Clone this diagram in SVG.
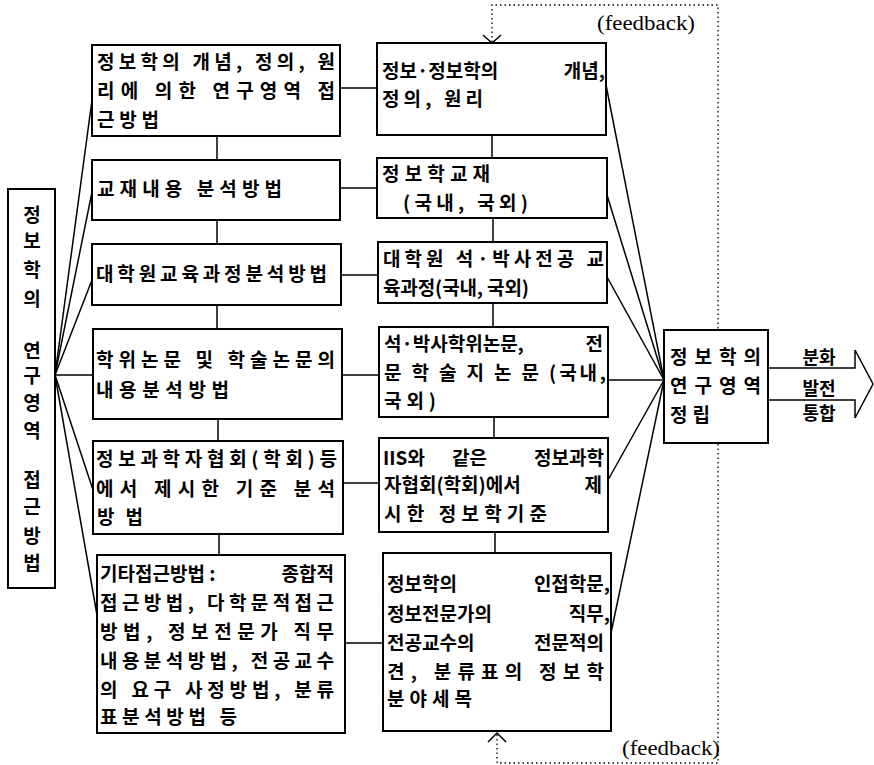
<svg xmlns="http://www.w3.org/2000/svg" width="874" height="765" viewBox="0 0 874 765">
<style>
.box{fill:#fff;stroke:#000;stroke-width:2}
.ln{stroke:#000;stroke-width:1.5;fill:none}
.dot{stroke:#000;stroke-width:1.3;stroke-dasharray:1.5 3;fill:none}
.arw{stroke:#000;stroke-width:1.5;fill:none}
.t{font-family:"Noto Sans CJK KR","Noto Sans",sans-serif;font-size:19px;font-weight:bold;fill:#000}
.v{font-family:"Noto Sans CJK KR","Noto Sans",sans-serif;font-size:19px;font-weight:bold;fill:#000;text-anchor:middle}
.a{font-family:"Noto Sans CJK KR","Noto Sans",sans-serif;font-size:18px;font-weight:bold;fill:#000;text-anchor:middle}
.fb{font-family:"Liberation Serif",serif;font-size:20px;fill:#000}
</style>
<rect width="874" height="765" fill="#fff"/>
<g id="connectors">
  <polyline class="dot" points="492,42 492,5 718,5 718,763 497,763 497,734"/>
  <polyline class="arw" points="483,35 492,43 501,35"/>
  <polyline class="arw" points="488,742 497,733 506,742"/>
  <line class="ln" x1="55" y1="375" x2="92" y2="100"/>
  <line class="ln" x1="55" y1="375" x2="92" y2="192"/>
  <line class="ln" x1="55" y1="375" x2="92" y2="280"/>
  <line class="ln" x1="55" y1="375" x2="93" y2="375"/>
  <line class="ln" x1="55" y1="375" x2="93" y2="490"/>
  <line class="ln" x1="55" y1="375" x2="97" y2="615"/>
  <line class="ln" x1="217" y1="136" x2="217" y2="160"/>
  <line class="ln" x1="217" y1="220" x2="217" y2="244"/>
  <line class="ln" x1="217" y1="305" x2="217" y2="329"/>
  <line class="ln" x1="218" y1="419" x2="218" y2="441"/>
  <line class="ln" x1="219" y1="534" x2="219" y2="555"/>
  <line class="ln" x1="492" y1="135" x2="492" y2="158"/>
  <line class="ln" x1="493" y1="218" x2="493" y2="242"/>
  <line class="ln" x1="493" y1="303" x2="493" y2="327"/>
  <line class="ln" x1="494" y1="417" x2="494" y2="438"/>
  <line class="ln" x1="495" y1="532" x2="495" y2="553"/>
  <line class="ln" x1="340" y1="88" x2="377" y2="88"/>
  <line class="ln" x1="340" y1="188" x2="377" y2="188"/>
  <line class="ln" x1="340" y1="275" x2="378" y2="275"/>
  <line class="ln" x1="342" y1="375" x2="379" y2="375"/>
  <line class="ln" x1="343" y1="483" x2="379" y2="483"/>
  <line class="ln" x1="345" y1="643" x2="383" y2="643"/>
  <line class="ln" x1="606" y1="85" x2="664" y2="380"/>
  <line class="ln" x1="607" y1="195" x2="664" y2="380"/>
  <line class="ln" x1="607" y1="277" x2="664" y2="380"/>
  <line class="ln" x1="608" y1="380" x2="664" y2="380"/>
  <line class="ln" x1="608" y1="480" x2="664" y2="380"/>
  <line class="ln" x1="611" y1="633" x2="664" y2="380"/>
  <polyline class="arw" points="768,368 855,368 855,350 873,384 855,418 855,400 768,400"/>
</g>
<text class="fb" x="597" y="30" textLength="98" lengthAdjust="spacingAndGlyphs">(feedback)</text>
<text class="fb" x="622" y="755" textLength="98" lengthAdjust="spacingAndGlyphs">(feedback)</text>

<g id="root">
  <rect class="box" x="8" y="189" width="47" height="399"/>
  <text class="v"><tspan x="32" y="222">정</tspan><tspan x="32" y="248">보</tspan><tspan x="32" y="277">학</tspan><tspan x="32" y="306">의</tspan><tspan x="32" y="358">연</tspan><tspan x="32" y="383">구</tspan><tspan x="32" y="410">영</tspan><tspan x="32" y="438">역</tspan><tspan x="32" y="487">접</tspan><tspan x="32" y="514">근</tspan><tspan x="32" y="543">방</tspan><tspan x="32" y="570">법</tspan></text>
</g>

<g id="m1">
  <rect class="box" x="92" y="45" width="248" height="91"/>
  <text class="t" x="97" y="69" textLength="238" lengthAdjust="spacing">정보학의 개념, 정의, 원</text>
  <text class="t" x="97" y="98" textLength="238" lengthAdjust="spacing">리에 의한 연구영역 접</text>
  <text class="t" x="97" y="127" textLength="62" lengthAdjust="spacing">근방법</text>
</g>
<g id="m2">
  <rect class="box" x="92" y="160" width="248" height="60"/>
  <text class="t" x="97" y="196" textLength="185" lengthAdjust="spacing">교재내용 분석방법</text>
</g>
<g id="m3">
  <rect class="box" x="92" y="244" width="249" height="61"/>
  <text class="t" x="96" y="281" textLength="231" lengthAdjust="spacing">대학원교육과정분석방법</text>
</g>
<g id="m4">
  <rect class="box" x="93" y="329" width="249" height="90"/>
  <text class="t" x="96" y="367" textLength="239" lengthAdjust="spacing">학위논문 및 학술논문의</text>
  <text class="t" x="96" y="397" textLength="133" lengthAdjust="spacing">내용분석방법</text>
</g>
<g id="m5">
  <rect class="box" x="93" y="441" width="250" height="93"/>
  <text class="t" x="96" y="466" textLength="241" lengthAdjust="spacing">정보과학자협회(학회)등</text>
  <text class="t" x="96" y="496" textLength="239" lengthAdjust="spacing">에서 제시한 기준 분석</text>
  <text class="t" x="97" y="524" textLength="46" lengthAdjust="spacing">방법</text>
</g>
<g id="m6">
  <rect class="box" x="97" y="555" width="248" height="178"/>
  <text class="t" x="100" y="581">기타접근방법 :<tspan x="334" text-anchor="end">종합적</tspan></text>
  <text class="t" x="100" y="610" textLength="234" lengthAdjust="spacing">접근방법, 다학문적접근</text>
  <text class="t" x="100" y="639" textLength="234" lengthAdjust="spacing">방법, 정보전문가 직무</text>
  <text class="t" x="100" y="668" textLength="234" lengthAdjust="spacing">내용분석방법, 전공교수</text>
  <text class="t" x="100" y="697" textLength="234" lengthAdjust="spacing">의 요구 사정방법, 분류</text>
  <text class="t" x="100" y="724" textLength="137" lengthAdjust="spacing">표분석방법 등</text>
</g>

<g id="s1">
  <rect class="box" x="377" y="43" width="229" height="92"/>
  <text class="t" x="382" y="78">정보·정보학의<tspan x="605" text-anchor="end">개념,</tspan></text>
  <text class="t" x="382" y="106" textLength="101" lengthAdjust="spacing">정의, 원리</text>
</g>
<g id="s2">
  <rect class="box" x="377" y="158" width="230" height="60"/>
  <text class="t" x="382" y="181" textLength="108" lengthAdjust="spacing">정보학교재</text>
  <text class="t" x="403" y="210" textLength="125" lengthAdjust="spacing">(국내, 국외)</text>
</g>
<g id="s3">
  <rect class="box" x="378" y="242" width="229" height="61"/>
  <text class="t" x="383" y="266" textLength="221" lengthAdjust="spacing">대학원 석·박사전공 교</text>
  <text class="t" x="383" y="295" textLength="146" lengthAdjust="spacing">육과정(국내, 국외)</text>
</g>
<g id="s4">
  <rect class="box" x="379" y="327" width="229" height="90"/>
  <text class="t" x="384" y="351">석·박사학위논문,<tspan x="603" text-anchor="end">전</tspan></text>
  <text class="t" x="384" y="380" textLength="222" lengthAdjust="spacing">문 학 술 지 논 문 (국내,</text>
  <text class="t" x="384" y="408" textLength="52" lengthAdjust="spacing">국외)</text>
</g>
<g id="s5">
  <rect class="box" x="379" y="438" width="229" height="94"/>
  <text class="t" x="383" y="465">IIS와<tspan x="452">같은</tspan><tspan x="604" text-anchor="end">정보과학</tspan></text>
  <text class="t" x="384" y="492">자협회(학회)에서<tspan x="602" text-anchor="end">제</tspan></text>
  <text class="t" x="384" y="521" textLength="163" lengthAdjust="spacing">시한 정보학기준</text>
</g>
<g id="s6">
  <rect class="box" x="383" y="553" width="228" height="178"/>
  <text class="t" x="387" y="591">정보학의<tspan x="610" text-anchor="end">인접학문,</tspan></text>
  <text class="t" x="387" y="621">정보전문가의<tspan x="610" text-anchor="end">직무,</tspan></text>
  <text class="t" x="387" y="650">전공교수의<tspan x="604" text-anchor="end">전문적의</tspan></text>
  <text class="t" x="387" y="679" textLength="217" lengthAdjust="spacing">견, 분류표의 정보학</text>
  <text class="t" x="387" y="706" textLength="85" lengthAdjust="spacing">분야세목</text>
</g>

<g id="hub">
  <rect class="box" x="664" y="330" width="104" height="113"/>
  <text class="t" x="670" y="364" textLength="91" lengthAdjust="spacing">정 보 학 의</text>
  <text class="t" x="670" y="393" textLength="91" lengthAdjust="spacing">연 구 영 역</text>
  <text class="t" x="670" y="422" textLength="40" lengthAdjust="spacing">정립</text>
</g>

<g id="output">
  <text class="a" x="819" y="364">분화</text>
  <text class="a" x="819" y="395">발전</text>
  <text class="a" x="819" y="420">통합</text>
</g>
</svg>
